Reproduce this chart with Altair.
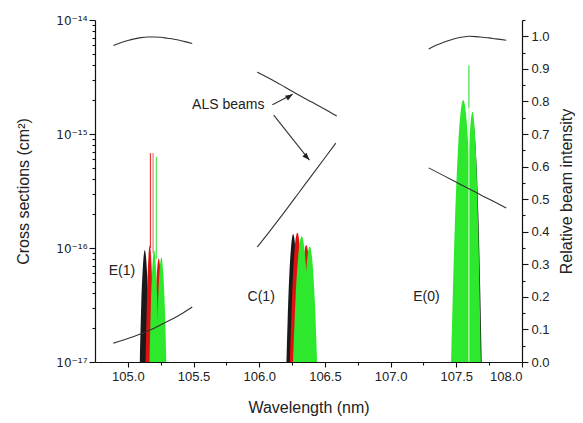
import altair as alt
import pandas as pd

# ---------------- data ----------------
# Cross-section peaks: (name, colour, wavelengths nm, cross sections cm^2)
peaks = [
    # E(1) band
    ("e1_black", "#1a1a1a", [105.091, 105.102, 105.114, 105.129, 105.144, 105.156, 105.167],
     [1.0e-17, 3.2e-17, 6.7e-17, 9.6e-17, 6.7e-17, 3.2e-17, 1.0e-17]),
    ("e1_red", "#e01010", [105.135, 105.145, 105.154, 105.167, 105.180, 105.189, 105.199],
     [1.0e-17, 3.3e-17, 7.2e-17, 1.05e-16, 7.2e-17, 3.3e-17, 1.0e-17]),
    ("e1_red2", "#e01010", [105.197, 105.208, 105.220, 105.235, 105.250, 105.262, 105.273],
     [1.0e-17, 2.9e-17, 5.8e-17, 8.1e-17, 5.8e-17, 2.9e-17, 1.0e-17]),
    ("e1_green", "#2ee82e", [105.165, 105.1755, 105.186, 105.200, 105.214, 105.2245, 105.235],
     [1.0e-17, 3.15e-17, 6.6e-17, 9.5e-17, 6.6e-17, 3.15e-17, 1.0e-17]),
    ("e1_green2", "#2ee82e", [105.217, 105.228, 105.240, 105.255, 105.270, 105.282, 105.293],
     [1.0e-17, 2.95e-17, 5.9e-17, 8.3e-17, 5.9e-17, 2.95e-17, 1.0e-17]),
    # C(1) band
    ("c1_black", "#1a1a1a", [106.207, 106.222, 106.238, 106.258, 106.278, 106.294, 106.309],
     [1.0e-17, 3.74e-17, 8.8e-17, 1.33e-16, 8.8e-17, 3.74e-17, 1.0e-17]),
    ("c1_red", "#e01010", [106.233, 106.250, 106.267, 106.290, 106.313, 106.330, 106.347],
     [1.0e-17, 3.8e-17, 9.0e-17, 1.36e-16, 9.0e-17, 3.8e-17, 1.0e-17]),
    ("c1_red2", "#e01010", [106.303, 106.3195, 106.336, 106.358, 106.380, 106.3965, 106.413],
     [1.0e-17, 3.3e-17, 7.3e-17, 1.06e-16, 7.3e-17, 3.3e-17, 1.0e-17]),
    ("c1_green", "#2ee82e", [106.257, 106.277, 106.297, 106.323, 106.349, 106.369, 106.389],
     [1.0e-17, 3.7e-17, 8.5e-17, 1.27e-16, 8.5e-17, 3.7e-17, 1.0e-17]),
    ("c1_green2", "#2ee82e", [106.327, 106.344, 106.361, 106.384, 106.407, 106.424, 106.441],
     [1.0e-17, 3.3e-17, 7.1e-17, 1.03e-16, 7.1e-17, 3.3e-17, 1.0e-17]),
    # E(0) band
    ("e0_black", "#1a1a1a", [107.557, 107.577, 107.598, 107.625, 107.652, 107.673, 107.693],
     [1.0e-17, 1.2e-16, 6.0e-16, 1.3e-15, 6.0e-16, 1.2e-16, 1.0e-17]),
    ("e0_green", "#2ee82e", [107.460, 107.488, 107.516, 107.553, 107.590, 107.618, 107.646],
     [1.0e-17, 1.49e-16, 8.5e-16, 1.99e-15, 8.5e-16, 1.49e-16, 1.0e-17]),
    ("e0_green2", "#2ee82e", [107.559, 107.578, 107.597, 107.623, 107.649, 107.668, 107.687],
     [1.0e-17, 1.32e-16, 7.0e-16, 1.57e-15, 7.0e-16, 1.32e-16, 1.0e-17]),
]

# narrow spikes (resonances)
spike_x = [105.172, 105.192, 105.217, 107.596, 107.596]
spike_lo = [1.0e-16, 9.0e-17, 8.0e-17, 1.0e-17, 1.7e-15]
spike_hi = [6.8e-16, 6.8e-16, 6.3e-16, 1.7e-15, 4.0e-15]
spike_col = ["#e23a3a", "#ec7a7a", "#4fe84f", "#c9f7c2", "#3fe03f"]

# ALS beam profiles (relative intensity, right axis)
beams = {
    "b1": ([104.89, 104.95, 105.0, 105.05, 105.1, 105.15, 105.2, 105.25, 105.3, 105.35, 105.4, 105.45, 105.49],
           [0.972, 0.981, 0.987, 0.992, 0.996, 0.998, 0.998, 0.997, 0.994, 0.991, 0.987, 0.982, 0.978]),
    "b2": ([105.985, 106.1, 106.2, 106.3, 106.4, 106.5, 106.59],
           [0.890, 0.866, 0.843, 0.820, 0.798, 0.776, 0.755]),
    "b3": ([105.985, 106.1, 106.2, 106.3, 106.4, 106.5, 106.583],
           [0.353, 0.412, 0.465, 0.519, 0.573, 0.627, 0.672]),
    "b4": ([104.89, 105.0, 105.1, 105.2, 105.3, 105.4, 105.49],
           [0.058, 0.072, 0.087, 0.104, 0.124, 0.146, 0.169]),
    "b5": ([107.29, 107.35, 107.4, 107.45, 107.5, 107.55, 107.6, 107.65, 107.7, 107.75, 107.8, 107.88],
           [0.961, 0.973, 0.981, 0.988, 0.994, 0.998, 1.0, 0.999, 0.997, 0.995, 0.992, 0.988]),
    "b6": ([107.29, 107.4, 107.5, 107.6, 107.7, 107.8, 107.88],
           [0.596, 0.573, 0.552, 0.531, 0.510, 0.490, 0.473]),
}

# arrows from the "ALS beams" label
arrow_x0 = [106.100, 106.110]
arrow_v0 = [0.790, 0.758]
arrow_x1 = [106.255, 106.382]
arrow_v1 = [0.822, 0.620]
arrow_angle = [58, 138]

# annotations
text_label = ["ALS beams", "E(1)", "C(1)", "E(0)"]
text_x = [106.04, 104.955, 106.015, 107.273]
text_v = [0.790, 0.280, 0.200, 0.200]
text_align = ["right", "center", "center", "center"]

# ---------------- encodings ----------------
FONT = "Liberation Sans"
POW = "abs(log(datum.value)/LN10 - round(log(datum.value)/LN10)) < 0.001"

X = alt.X("x:Q", title="Wavelength (nm)",
          scale=alt.Scale(domain=[104.75, 108.0], nice=False, zero=False),
          axis=alt.Axis(values=[105.0 + 0.25 * i for i in range(13)],
                        labelExpr="abs(datum.value*2 - round(datum.value*2)) < 0.001 ? format(datum.value, '.1f') : ''",
                        tickSize={"condition": {"test": "abs(datum.value*2 - round(datum.value*2)) < 0.001", "value": 5}, "value": 3},
                        labelPadding=3, titlePadding=16))

left_vals = [m * 10.0 ** e for e in (-17, -16, -15) for m in range(1, 10)] + [1e-14]
YL = alt.Y("y:Q", title="Cross sections (cm²)",
           scale=alt.Scale(type="log", domain=[1e-17, 1e-14], nice=False),
           axis=alt.Axis(values=left_vals,
                         labelExpr=POW + " ? '10' + (round(log(datum.value)/LN10) == -17 ? '⁻¹⁷' : round(log(datum.value)/LN10) == -16 ? '⁻¹⁶' : round(log(datum.value)/LN10) == -15 ? '⁻¹⁵' : '⁻¹⁴') : ''",
                         labelFont="DejaVu Sans", labelFontSize=12,
                         tickSize={"condition": {"test": POW, "value": 6}, "value": 3},
                         labelPadding=2, titlePadding=24))

YR = alt.Y("v:Q", title="Relative beam intensity",
           scale=alt.Scale(domain=[0, 1.05], nice=False, zero=False),
           axis=alt.Axis(orient="right", values=[round(0.05 * i, 2) for i in range(22)],
                         labelExpr="abs(datum.value*10 - round(datum.value*10)) < 0.001 ? format(datum.value, '.1f') : ''",
                         tickSize={"condition": {"test": "abs(datum.value*10 - round(datum.value*10)) < 0.001", "value": 6}, "value": 3},
                         labelPadding=3, titleAngle=270, titlePadding=25))

# ---------------- left (log) layer ----------------
left_layers = []
for name, col, xs, ys in peaks:
    df = pd.DataFrame({"x": xs, "y": ys, "base": [1e-17] * len(xs)})
    left_layers.append(
        alt.Chart(df).mark_area(color=col, interpolate="monotone", clip=True)
        .encode(x=X, y=YL, y2=alt.Y2("base"))
    )
spikes_df = pd.DataFrame({"x": spike_x, "y": spike_lo, "y_hi": spike_hi, "c": spike_col})
left_layers.append(
    alt.Chart(spikes_df).mark_rule(strokeWidth=1.2)
    .encode(x=X, y=YL, y2=alt.Y2("y_hi"), color=alt.Color("c:N", scale=None))
)
left = alt.layer(*left_layers)

# ---------------- right (linear) layer ----------------
rows = []
for k, (xs, vs) in beams.items():
    for xv, vv in zip(xs, vs):
        rows.append({"x": xv, "v": vv, "curve": k})
beam_df = pd.DataFrame(rows)
beam_layer = alt.Chart(beam_df).mark_line(color="#333333", strokeWidth=1.1, interpolate="monotone").encode(
    x=X, y=YR, detail="curve:N")

arrow_df = pd.DataFrame({"x": arrow_x0, "v": arrow_v0, "x2": arrow_x1, "v2": arrow_v1})
arrow_layer = alt.Chart(arrow_df).mark_rule(color="#333333", strokeWidth=1.1).encode(
    x=X, y=YR, x2=alt.X2("x2"), y2=alt.Y2("v2"))

head_df = pd.DataFrame({"x": arrow_x1, "v": arrow_v1, "a": arrow_angle})
head_layer = alt.Chart(head_df).mark_point(
    shape="M0,0L0.38,1L-0.38,1Z", filled=True, size=220, color="#222222", opacity=1
).encode(x=X, y=YR, angle=alt.Angle("a:Q", scale=None))

text_df = pd.DataFrame({"x": text_x, "v": text_v, "t": text_label, "al": text_align})
text_layers = []
for al in ["right", "center"]:
    sub = text_df[text_df["al"] == al]
    text_layers.append(
        alt.Chart(sub).mark_text(align=al, baseline="middle", font=FONT, fontSize=14, color="#222222")
        .encode(x=X, y=YR, text="t:N")
    )

right = alt.layer(beam_layer, arrow_layer, head_layer, *text_layers)

chart = (
    alt.layer(left, right)
    .resolve_scale(y="independent")
    .properties(width=427, height=342,
                autosize=alt.AutoSizeParams(type="none"),
                padding={"left": 87, "top": 12, "right": 53, "bottom": 60})
    .configure_view(stroke=None)
    .configure_axis(grid=False, labelFont=FONT, titleFont=FONT, labelFontSize=13, titleFontSize=16,
                    titleFontWeight="normal", domainColor="#111111", tickColor="#111111",
                    labelColor="#222222", titleColor="#222222", domainWidth=1.2, tickWidth=1.1)
)

chart.save("out.html", embed_options={"renderer": "svg", "actions": False})
